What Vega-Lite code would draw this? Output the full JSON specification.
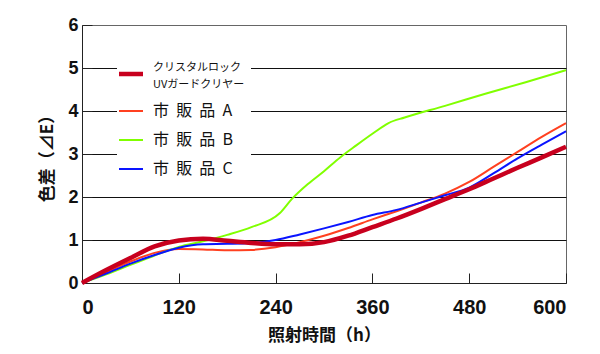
{
  "$schema": "https://vega.github.io/schema/vega-lite/v6.json",
  "width": 484,
  "height": 258,
  "autosize": "none",
  "padding": {"left": 82, "top": 25, "right": 34, "bottom": 71},
  "background": "white",
  "config": {
    "view": {"stroke": "#666", "strokeWidth": 1},
    "font": "Liberation Sans"
  },
  "datasets": {
    "d": [
      {"s": "クリスタルロック UVガードクリヤー", "h": 0, "v": 0},
      {"s": "クリスタルロック UVガードクリヤー", "h": 30, "v": 0.3},
      {"s": "クリスタルロック UVガードクリヤー", "h": 60, "v": 0.58},
      {"s": "クリスタルロック UVガードクリヤー", "h": 90, "v": 0.85},
      {"s": "クリスタルロック UVガードクリヤー", "h": 120, "v": 0.99},
      {"s": "クリスタルロック UVガードクリヤー", "h": 150, "v": 1.03},
      {"s": "クリスタルロック UVガードクリヤー", "h": 180, "v": 0.98},
      {"s": "クリスタルロック UVガードクリヤー", "h": 210, "v": 0.93},
      {"s": "クリスタルロック UVガードクリヤー", "h": 240, "v": 0.9},
      {"s": "クリスタルロック UVガードクリヤー", "h": 270, "v": 0.9},
      {"s": "クリスタルロック UVガードクリヤー", "h": 300, "v": 0.95},
      {"s": "クリスタルロック UVガードクリヤー", "h": 330, "v": 1.1},
      {"s": "クリスタルロック UVガードクリヤー", "h": 360, "v": 1.3},
      {"s": "クリスタルロック UVガードクリヤー", "h": 390, "v": 1.5},
      {"s": "クリスタルロック UVガードクリヤー", "h": 420, "v": 1.72},
      {"s": "クリスタルロック UVガードクリヤー", "h": 450, "v": 1.95},
      {"s": "クリスタルロック UVガードクリヤー", "h": 480, "v": 2.18},
      {"s": "クリスタルロック UVガードクリヤー", "h": 510, "v": 2.43},
      {"s": "クリスタルロック UVガードクリヤー", "h": 540, "v": 2.68},
      {"s": "クリスタルロック UVガードクリヤー", "h": 570, "v": 2.92},
      {"s": "クリスタルロック UVガードクリヤー", "h": 600, "v": 3.17},
      {"s": "市販品 A", "h": 0, "v": 0},
      {"s": "市販品 A", "h": 30, "v": 0.25},
      {"s": "市販品 A", "h": 60, "v": 0.5},
      {"s": "市販品 A", "h": 90, "v": 0.7},
      {"s": "市販品 A", "h": 120, "v": 0.79},
      {"s": "市販品 A", "h": 150, "v": 0.78},
      {"s": "市販品 A", "h": 180, "v": 0.76},
      {"s": "市販品 A", "h": 210, "v": 0.77},
      {"s": "市販品 A", "h": 240, "v": 0.83},
      {"s": "市販品 A", "h": 270, "v": 0.95},
      {"s": "市販品 A", "h": 300, "v": 1.1},
      {"s": "市販品 A", "h": 330, "v": 1.28},
      {"s": "市販品 A", "h": 360, "v": 1.48},
      {"s": "市販品 A", "h": 390, "v": 1.67},
      {"s": "市販品 A", "h": 420, "v": 1.87},
      {"s": "市販品 A", "h": 450, "v": 2.08},
      {"s": "市販品 A", "h": 480, "v": 2.35},
      {"s": "市販品 A", "h": 510, "v": 2.7},
      {"s": "市販品 A", "h": 540, "v": 3.05},
      {"s": "市販品 A", "h": 570, "v": 3.4},
      {"s": "市販品 A", "h": 600, "v": 3.72},
      {"s": "市販品 B", "h": 0, "v": 0},
      {"s": "市販品 B", "h": 30, "v": 0.2},
      {"s": "市販品 B", "h": 60, "v": 0.42},
      {"s": "市販品 B", "h": 90, "v": 0.64},
      {"s": "市販品 B", "h": 120, "v": 0.84},
      {"s": "市販品 B", "h": 150, "v": 0.97},
      {"s": "市販品 B", "h": 180, "v": 1.12},
      {"s": "市販品 B", "h": 210, "v": 1.3},
      {"s": "市販品 B", "h": 245, "v": 1.62},
      {"s": "市販品 B", "h": 260, "v": 1.95},
      {"s": "市販品 B", "h": 280, "v": 2.3},
      {"s": "市販品 B", "h": 300, "v": 2.6},
      {"s": "市販品 B", "h": 320, "v": 2.92},
      {"s": "市販品 B", "h": 340, "v": 3.2},
      {"s": "市販品 B", "h": 360, "v": 3.47},
      {"s": "市販品 B", "h": 380, "v": 3.72},
      {"s": "市販品 B", "h": 400, "v": 3.85},
      {"s": "市販品 B", "h": 450, "v": 4.12},
      {"s": "市販品 B", "h": 500, "v": 4.4},
      {"s": "市販品 B", "h": 550, "v": 4.67},
      {"s": "市販品 B", "h": 600, "v": 4.95},
      {"s": "市販品 C", "h": 0, "v": 0},
      {"s": "市販品 C", "h": 30, "v": 0.22},
      {"s": "市販品 C", "h": 60, "v": 0.45},
      {"s": "市販品 C", "h": 90, "v": 0.65},
      {"s": "市販品 C", "h": 120, "v": 0.82},
      {"s": "市販品 C", "h": 150, "v": 0.9},
      {"s": "市販品 C", "h": 180, "v": 0.91},
      {"s": "市販品 C", "h": 210, "v": 0.93},
      {"s": "市販品 C", "h": 240, "v": 1.0},
      {"s": "市販品 C", "h": 270, "v": 1.13},
      {"s": "市販品 C", "h": 300, "v": 1.27},
      {"s": "市販品 C", "h": 330, "v": 1.42},
      {"s": "市販品 C", "h": 360, "v": 1.58},
      {"s": "市販品 C", "h": 390, "v": 1.7},
      {"s": "市販品 C", "h": 420, "v": 1.87},
      {"s": "市販品 C", "h": 450, "v": 2.04},
      {"s": "市販品 C", "h": 480, "v": 2.22},
      {"s": "市販品 C", "h": 510, "v": 2.55},
      {"s": "市販品 C", "h": 540, "v": 2.9},
      {"s": "市販品 C", "h": 570, "v": 3.22},
      {"s": "市販品 C", "h": 600, "v": 3.53}
    ]
  },
  "data": {"name": "d"},
  "encoding": {
    "x": {
      "field": "h", "type": "quantitative",
      "scale": {"domain": [0, 600], "nice": false},
      "axis": {
        "values": [0, 120, 240, 360, 480, 600],
        "title": "照射時間（h）",
        "titleFont": "Noto Sans CJK JP", "titleFontSize": 17, "titleFontWeight": "bold", "titleColor": "#111",
        "titlePadding": 10,
        "labelFont": "Liberation Sans", "labelFontSize": 20, "labelFontWeight": "bold", "labelColor": "#111",
        "labelPadding": 24,
        "domainColor": "#222", "tickColor": "#222", "tickSize": -10,
        "grid": false
      }
    },
    "y": {
      "field": "v", "type": "quantitative",
      "scale": {"domain": [0, 6], "nice": false},
      "axis": {
        "values": [0, 1, 2, 3, 4, 5, 6],
        "title": "色差（⊿E）",
        "titleFont": "Noto Sans CJK JP", "titleFontSize": 17, "titleFontWeight": "bold", "titleColor": "#111",
        "titlePadding": 11,
        "labelFont": "Liberation Sans", "labelFontSize": 18, "labelFontWeight": "bold", "labelColor": "#111",
        "labelPadding": 14,
        "domainColor": "#222", "tickColor": "#222", "tickSize": -10,
        "grid": true, "gridColor": "#111", "gridWidth": 1,
        "gridOpacity": {"condition": {"test": "datum.value == 6 || datum.value == 0", "value": 0}, "value": 1}
      }
    },
    "color": {
      "field": "s", "type": "nominal",
      "scale": {
        "domain": ["クリスタルロック UVガードクリヤー", "市販品 A", "市販品 B", "市販品 C"],
        "range": ["#c8001e", "#ff4020", "#80ff00", "#0a14ff"]
      },
      "legend": {
        "title": null,
        "orient": "none", "legendX": 35, "legendY": 35,
        "fillColor": "white", "padding": 6,
        "symbolType": "stroke", "symbolSize": 576,
        "labelFont": "Noto Sans CJK JP", "labelFontSize": 16, "labelColor": "#111",
        "labelOffset": 14, "rowPadding": 13,
        "labelExpr": "datum.label == 'クリスタルロック UVガードクリヤー' ? ['クリスタルロック', 'UVガードクリヤー'] : datum.label == '市販品 A' ? '市\u00a0\u00a0販\u00a0\u00a0品\u00a0\u00a0A' : datum.label == '市販品 B' ? '市\u00a0\u00a0販\u00a0\u00a0品\u00a0\u00a0B' : '市\u00a0\u00a0販\u00a0\u00a0品\u00a0\u00a0C'",
        "encode": {
          "symbols": {"update": {"strokeWidth": {"signal": "datum.value == 'クリスタルロック UVガードクリヤー' ? 4.5 : 2"}}},
          "labels": {"update": {
            "fontSize": {"signal": "datum.value == 'クリスタルロック UVガードクリヤー' ? 11 : 16"},
            "lineHeight": {"signal": "datum.value == 'クリスタルロック UVガードクリヤー' ? 17 : 16"},
            "dy": {"signal": "datum.value == 'クリスタルロック UVガードクリヤー' ? -6 : 0"}
          }}
        }
      }
    }
  },
  "layer": [
    {
      "transform": [{"filter": "datum.s != 'クリスタルロック UVガードクリヤー'"}],
      "mark": {"type": "line", "interpolate": "monotone", "strokeWidth": 2}
    },
    {
      "transform": [{"filter": "datum.s == 'クリスタルロック UVガードクリヤー'"}],
      "mark": {"type": "line", "interpolate": "monotone", "strokeWidth": 4.5}
    }
  ]
}
